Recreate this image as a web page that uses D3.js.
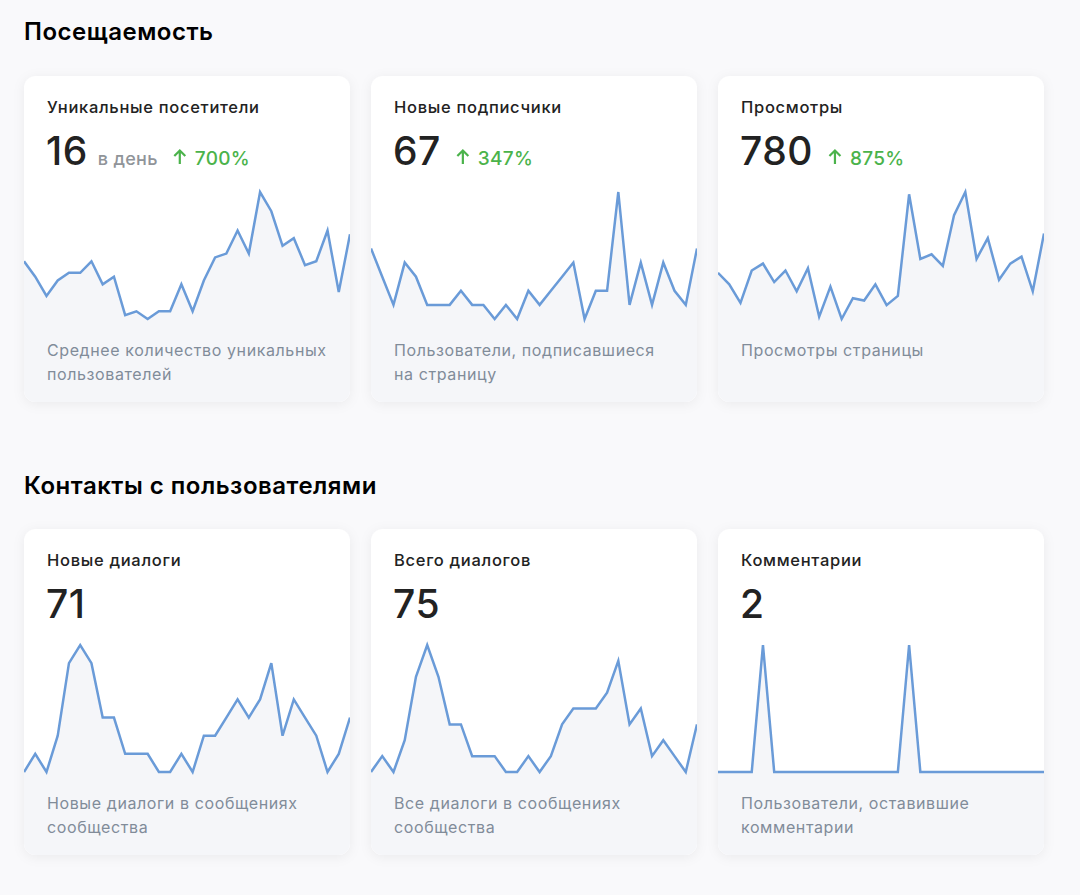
<!DOCTYPE html>
<html lang="ru">
<head>
<meta charset="utf-8">
<title>Посещаемость</title>
<script src="https://cdn.jsdelivr.net/npm/d3@7"></script>
<style>
  html, body { margin: 0; padding: 0; background: #f9f9fb; }
  svg { display: block; font-family: Inter, "Noto Sans", sans-serif; }
</style>
</head>
<body>
<svg id="chart"></svg>
<script>
// daily values for the last 30 days
const visitors = [18, 14, 9, 13, 15, 15, 18, 12, 14, 4, 5, 3, 5, 5, 12, 5, 13, 19, 20, 26, 20, 36, 31, 22, 24, 17, 18, 26, 10, 25];
const subscribers = [5, 3, 1, 4, 3, 1, 1, 1, 2, 1, 1, 0, 1, 0, 2, 1, 2, 3, 4, 0, 2, 2, 9, 1, 4, 1, 4, 2, 1, 5];
const views = [25, 20, 12, 26, 29, 21, 26, 17, 27, 6, 19, 5, 14, 13, 20, 11, 15, 59, 31, 33, 28, 50, 60, 31, 40, 22, 29, 32, 17, 42];
const newDialogs = [0, 1, 0, 2, 6, 7, 6, 3, 3, 1, 1, 1, 0, 0, 1, 0, 2, 2, 3, 4, 3, 4, 6, 2, 4, 3, 2, 0, 1, 3];
const allDialogs = [0, 1, 0, 2, 6, 8, 6, 3, 3, 1, 1, 1, 0, 0, 1, 0, 1, 3, 4, 4, 4, 5, 7, 3, 4, 1, 2, 1, 0, 3];
const comments = [0, 0, 0, 0, 1, 0, 0, 0, 0, 0, 0, 0, 0, 0, 0, 0, 0, 1, 0, 0, 0, 0, 0, 0, 0, 0, 0, 0, 0, 0];

const sections = ['Посещаемость', 'Контакты с пользователями'];
const titles = ['Уникальные посетители', 'Новые подписчики', 'Просмотры',
  'Новые диалоги', 'Всего диалогов', 'Комментарии'];
const totals = ['16', '67', '780', '71', '75', '2'];
const units = ['в день', '', '', '', '', ''];
const growth = ['700%', '347%', '875%', '', '', ''];
const captions = [
  ['Среднее количество уникальных', 'пользователей'],
  ['Пользователи, подписавшиеся', 'на страницу'],
  ['Просмотры страницы'],
  ['Новые диалоги в сообщениях', 'сообщества'],
  ['Все диалоги в сообщениях', 'сообщества'],
  ['Пользователи, оставившие', 'комментарии']
];
const series = [visitors, subscribers, views, newDialogs, allDialogs, comments];

const width = 1080;
const height = 895;
const cardW = 326;
const cardH = 326;
const cardX = [24, 371, 718];
const cardY = [76, 529];
const headY = [40, 494];

const lineColor = '#6a9bd8';
const green = '#4bb34b';

const svg = d3.select('#chart')
  .attr('width', width)
  .attr('height', height);

const defs = svg.append('defs');
defs.append('filter')
  .attr('id', 'shadow')
  .attr('x', '-10%').attr('y', '-10%')
  .attr('width', '120%').attr('height', '125%')
  .append('feDropShadow')
  .attr('dx', 0).attr('dy', 2)
  .attr('stdDeviation', 6)
  .attr('flood-color', '#000')
  .attr('flood-opacity', 0.06);

/* Section headings */
svg.selectAll('text.section')
  .data(sections)
  .enter()
  .append('text')
  .attr('class', 'section')
  .attr('x', 24)
  .attr('y', (d, i) => headY[i])
  .attr('font-size', 24)
  .attr('font-weight', 600)
  .attr('letter-spacing', 0.5)
  .attr('fill', '#000')
  .text(d => d);

const x = d3.scaleLinear().domain([0, 29]).range([0, cardW]);

series.forEach((values, i) => {
  const cx = cardX[i % 3];
  const cy = cardY[Math.floor(i / 3)];
  const card = svg.append('g').attr('transform', `translate(${cx}, ${cy})`);

  defs.append('clipPath')
    .attr('id', `clip${i}`)
    .append('rect')
    .attr('width', cardW)
    .attr('height', cardH)
    .attr('rx', 12);

  card.append('rect')
    .attr('width', cardW)
    .attr('height', cardH)
    .attr('rx', 12)
    .attr('fill', '#fff')
    .attr('filter', 'url(#shadow)');

  const y = d3.scaleLinear()
    .domain(d3.extent(values))
    .range([243, 116]);

  const area = d3.area()
    .x((d, j) => x(j))
    .y0(cardH)
    .y1(d => y(d));

  const line = d3.line()
    .x((d, j) => x(j))
    .y(d => y(d));

  const plot = card.append('g').attr('clip-path', `url(#clip${i})`);
  plot.append('path')
    .datum(values)
    .attr('d', area)
    .attr('fill', '#f5f6f9');
  plot.append('path')
    .datum(values)
    .attr('d', line)
    .attr('fill', 'none')
    .attr('stroke', lineColor)
    .attr('stroke-width', 2.5)
    .attr('stroke-linejoin', 'miter');

  card.append('text')
    .attr('x', 23)
    .attr('y', 37)
    .attr('font-size', 16.5)
    .attr('font-weight', 500)
    .attr('letter-spacing', 0.7)
    .attr('fill', '#222')
    .text(titles[i]);

  const num = card.append('text')
    .attr('x', 22)
    .attr('y', 89)
    .attr('font-size', 39)
    .attr('font-weight', 500)
    .attr('letter-spacing', 0.5)
    .attr('fill', '#222')
    .text(totals[i]);

  let pos = 22 + num.node().getComputedTextLength();

  if (units[i]) {
    const unit = card.append('text')
      .attr('x', pos + 10)
      .attr('y', 89)
      .attr('font-size', 18)
      .attr('font-weight', 500)
      .attr('letter-spacing', 0.3)
      .attr('fill', '#909499')
      .text(units[i]);
    pos += 10 + unit.node().getComputedTextLength();
  }

  if (growth[i]) {
    const ax = pos + 22;
    card.append('path')
      .attr('d', `M${ax},${88} V${75} M${ax - 5.5},${80} L${ax},${74.5} L${ax + 5.5},${80}`)
      .attr('fill', 'none')
      .attr('stroke', green)
      .attr('stroke-width', 2.2);
    card.append('text')
      .attr('x', ax + 15)
      .attr('y', 89)
      .attr('font-size', 19)
      .attr('font-weight', 500)
      .attr('letter-spacing', 0.3)
      .attr('fill', green)
      .text(growth[i]);
  }

  card.selectAll('text.caption')
    .data(captions[i])
    .enter()
    .append('text')
    .attr('class', 'caption')
    .attr('x', 23)
    .attr('y', (d, j) => 280 + j * 23.5)
    .attr('font-size', 16)
    .attr('letter-spacing', 0.6)
    .attr('fill', '#818c99')
    .text(d => d);
});
</script>
</body>
</html>
